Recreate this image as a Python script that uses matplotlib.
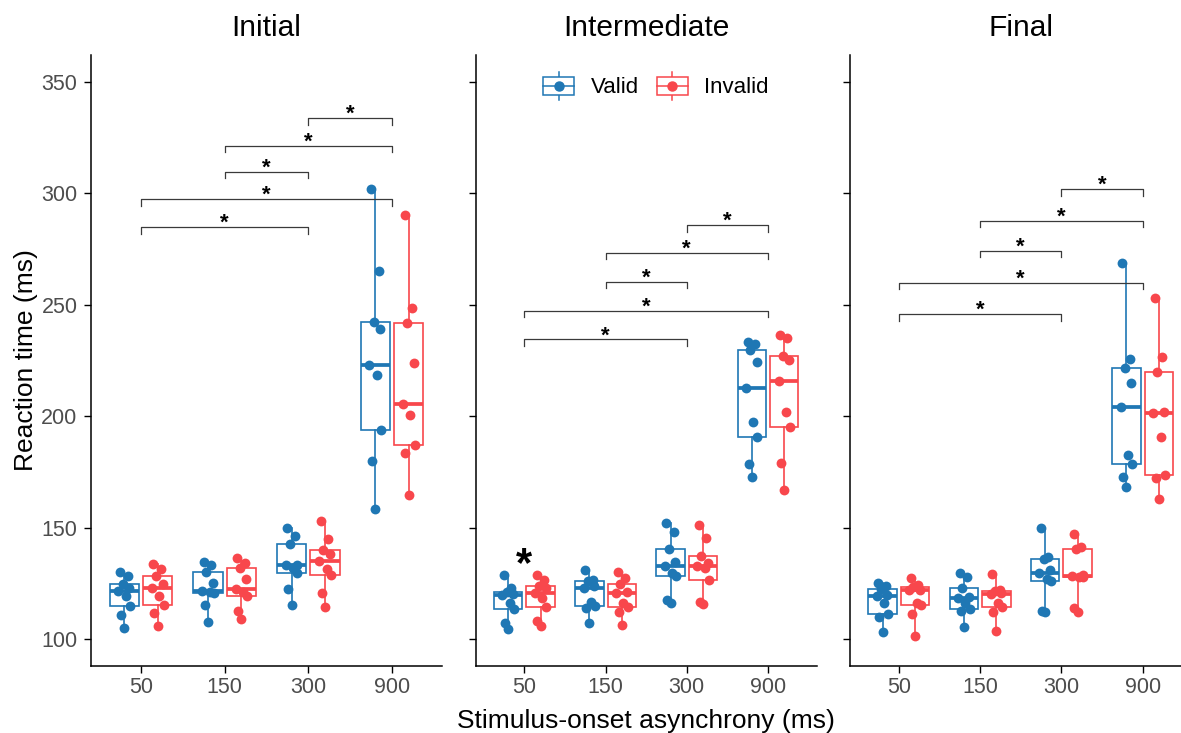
import numpy as np
import matplotlib
matplotlib.use("Agg")
import matplotlib.pyplot as plt
from matplotlib.lines import Line2D
from matplotlib.patches import Rectangle
from matplotlib.legend_handler import HandlerBase

plt.rcParams['font.family'] = ['Liberation Sans', 'DejaVu Sans']

BLUE = "#1F77B4"
RED = "#F8474C"

soa_labels = ["50", "150", "300", "900"]
phases = ["Initial", "Intermediate", "Final"]

# reaction times (ms), one list per SOA, 9 participants each
initial_valid = [
    [130.3, 128.4, 124.9, 123.1, 121.6, 119.7, 114.9, 111.1, 105.1],
    [134.8, 133.3, 130.3, 125.4, 121.9, 121.3, 120.9, 115.6, 107.8],
    [150.1, 146.4, 142.7, 133.6, 133.2, 132.1, 129.9, 122.4, 115.6],
    [301.8, 265.0, 242.5, 239.2, 223.0, 218.5, 194.0, 180.2, 158.7],
]
initial_invalid = [
    [133.9, 131.4, 128.4, 124.9, 123.1, 119.4, 115.6, 111.9, 105.9],
    [136.6, 134.4, 132.1, 127.3, 122.4, 121.3, 119.4, 112.9, 109.3],
    [152.9, 144.9, 140.1, 138.2, 135.1, 131.4, 128.8, 120.9, 114.4],
    [290.2, 248.6, 241.7, 224.0, 205.7, 200.5, 187.2, 183.5, 164.9],
]
intermediate_valid = [
    [128.9, 122.9, 121.1, 120.3, 120.0, 116.2, 113.7, 107.3, 104.6],
    [131.2, 126.7, 126.2, 124.0, 122.9, 116.9, 115.2, 114.0, 107.5],
    [152.4, 148.3, 140.6, 134.9, 133.1, 129.7, 128.6, 117.7, 116.2],
    [233.5, 232.5, 229.8, 224.5, 212.9, 197.4, 190.6, 178.5, 173.0],
]
intermediate_invalid = [
    [128.9, 126.7, 124.1, 122.9, 120.7, 118.5, 114.4, 108.4, 106.1],
    [130.1, 127.4, 124.9, 121.4, 121.0, 116.2, 114.7, 112.5, 106.5],
    [151.3, 145.4, 137.4, 134.2, 133.1, 131.9, 126.7, 116.9, 115.9],
    [236.5, 235.3, 227.2, 225.3, 215.9, 201.8, 195.4, 179.0, 167.0],
]
final_valid = [
    [125.2, 124.0, 122.5, 119.8, 119.3, 116.2, 111.5, 110.2, 103.5],
    [129.7, 128.1, 123.2, 118.9, 118.5, 116.2, 113.5, 112.9, 105.5],
    [149.8, 137.1, 136.0, 131.2, 129.7, 127.0, 126.2, 112.9, 112.2],
    [268.6, 225.6, 221.6, 214.8, 204.1, 182.7, 178.5, 173.0, 168.5],
]
final_invalid = [
    [127.7, 124.4, 123.7, 122.3, 122.0, 116.2, 115.5, 111.3, 101.6],
    [129.2, 122.0, 121.5, 120.9, 120.5, 116.2, 114.4, 112.5, 104.0],
    [147.3, 141.6, 140.6, 128.9, 128.5, 128.1, 127.9, 114.0, 112.2],
    [253.2, 226.5, 220.1, 201.8, 201.4, 190.6, 173.7, 172.3, 163.0],
]

# significant SOA comparisons (1-based SOA index) and bracket heights
sig_pairs = [(3, 4), (2, 4), (2, 3), (1, 4), (1, 3)]
initial_brackets = [333.8, 321.3, 309.7, 297.5, 284.9]
intermediate_brackets = [285.8, 273.4, 260.4, 247.4, 234.6]
final_brackets = [301.9, 287.7, 274.3, 259.9, 245.9]

valid_all = [initial_valid, intermediate_valid, final_valid]
invalid_all = [initial_invalid, intermediate_invalid, final_invalid]
brackets_all = [initial_brackets, intermediate_brackets, final_brackets]

# fixed horizontal spread for the dots
jit = np.array([-0.05, 0.04, -0.02, 0.06, -0.07, 0.02, 0.07, -0.04, 0.0])


class BoxKey(HandlerBase):
    def create_artists(self, legend, orig_handle, xdescent, ydescent,
                       width, height, fontsize, trans):
        c = orig_handle.get_color()
        x0, y0 = -xdescent, -ydescent
        cx, cy = x0 + width / 2, y0 + height / 2
        whisk = Line2D([cx, cx], [y0, y0 + height], color=c, lw=1.1, transform=trans)
        box = Rectangle((x0, cy - 0.31 * height), width, 0.62 * height,
                        facecolor="white", edgecolor=c, lw=1.1, transform=trans)
        med = Line2D([x0, x0 + width], [cy, cy], color=c, lw=1.1, transform=trans)
        dot = Line2D([cx], [cy], marker="o", ms=6.5, color=c, lw=0, transform=trans)
        return [whisk, box, med, dot]


W, H = 1181, 733
fig = plt.figure(figsize=(W / 100, H / 100), dpi=100)

ax_left_px = [90.7, 475.7, 850.0]
ax_width_px = [351.6, 341.0, 341.5]
top_px, bot_px = 55, 666

axes = []
for i in range(3):
    ax = fig.add_axes([ax_left_px[i] / W, 1 - bot_px / H,
                       ax_width_px[i] / W, (bot_px - top_px) / H])
    axes.append(ax)

pos = np.arange(1, 5)
for i, ax in enumerate(axes):
    for vals, off, col in [(valid_all[i], -0.2, BLUE), (invalid_all[i], 0.2, RED)]:
        bp = ax.boxplot(vals, positions=pos + off, widths=0.35, whis=(0, 100),
                        showfliers=False, patch_artist=True,
                        boxprops=dict(facecolor="white", edgecolor=col, lw=1.2),
                        whiskerprops=dict(color=col, lw=1.2),
                        capprops=dict(visible=False),
                        medianprops=dict(color=col, lw=2.7, solid_capstyle="butt"))
        for k, v in enumerate(vals):
            ax.scatter(pos[k] + off + jit[:len(v)], v, s=50, color=col,
                       zorder=4, linewidths=0)

    for (a, b), yb in zip(sig_pairs, brackets_all[i]):
        ax.plot([a, a, b, b], [yb - 3, yb, yb, yb - 3], color="#3a3a3a", lw=0.9)
        ax.annotate("*", xy=((a + b) / 2, yb), xytext=(0, -1.5),
                    textcoords="offset points", ha="center", va="baseline",
                    fontsize=16, fontweight="bold")

    ax.set_xlim(0.4, 4.6)
    ax.set_ylim(88.1, 362.0)
    ax.set_xticks(pos)
    ax.set_xticklabels(soa_labels)
    ax.set_yticks([100, 150, 200, 250, 300, 350])
    if i > 0:
        ax.set_yticklabels([])
    ax.tick_params(axis="both", length=5, width=1.0, labelsize=15.5,
                   labelcolor="#4D4D4D", color="black")
    ax.tick_params(axis="x", pad=3)
    ax.tick_params(axis="y", pad=4.5)
    for s in ["top", "right"]:
        ax.spines[s].set_visible(False)
    for s in ["left", "bottom"]:
        ax.spines[s].set_linewidth(1.1)
    ax.set_title(phases[i], fontsize=21.5, pad=14)

# big asterisk over the 50 ms group in the intermediate phase
axes[1].text(1, 128.3, "*", ha="center", va="baseline", fontsize=30,
             fontweight="bold")

handles = [Line2D([], [], color=BLUE, label="Valid"),
           Line2D([], [], color=RED, label="Invalid")]
axes[1].legend(handles=handles, handler_map={Line2D: BoxKey()}, ncol=2,
               loc="center", bbox_to_anchor=(656 / W, 1 - 86 / H),
               bbox_transform=fig.transFigure, frameon=False, fontsize=16,
               handlelength=1.4, handleheight=1.55, handletextpad=0.75,
               columnspacing=0.8, borderpad=0.2)

fig.text(646 / W, 1 - 727.7 / H, "Stimulus-onset asynchrony (ms)", ha="center",
         va="baseline", fontsize=19)
fig.text(33 / W, 1 - 360.5 / H, "Reaction time (ms)", rotation=90,
         rotation_mode="anchor", ha="center", va="baseline", fontsize=19)

fig.savefig("out.png", dpi=100)
